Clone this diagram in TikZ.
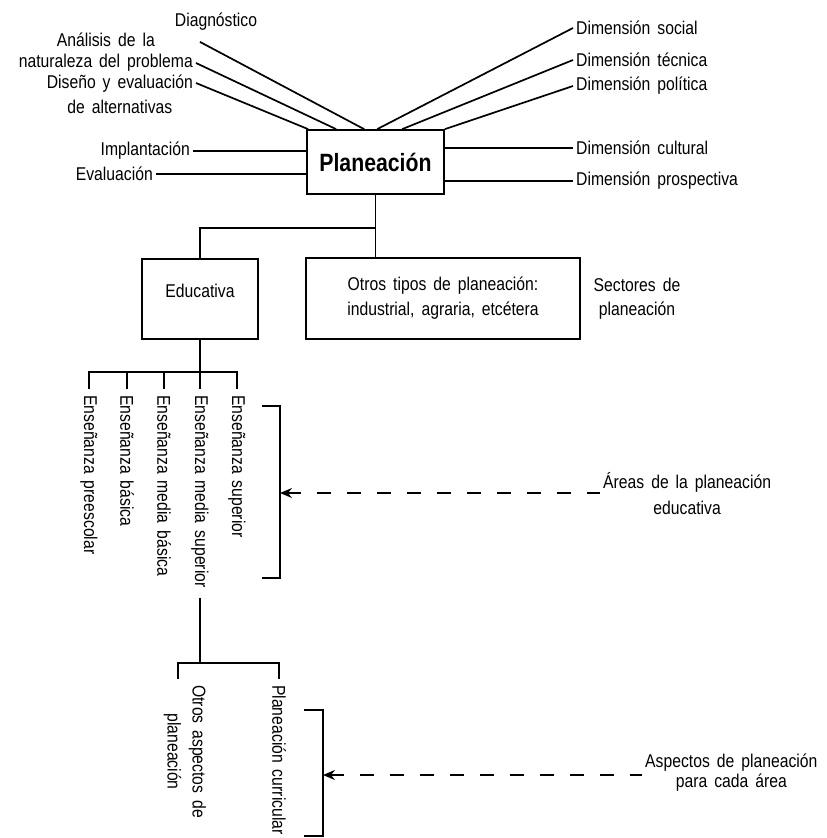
\documentclass[tikz,border=0pt]{standalone}
\usepackage{fontspec}
\setmainfont{Liberation Sans}[FakeStretch=0.85, WordSpace=1.6]
\usetikzlibrary{arrows.meta,calc}
\begin{document}
\begin{tikzpicture}[x=1pt,y=-1pt,
  every node/.style={font=\fontsize{18.5}{21}\selectfont, inner sep=3pt},
  boxed/.style={draw, line width=1.7pt},
  ln/.style={line width=1.7pt, line join=miter},
  vtext/.style={rotate=-90, anchor=west},
  dashln/.style={line width=1.7pt, dash pattern=on 14pt off 16pt, {Stealth[length=12pt,width=10pt,inset=4pt]}-},
]
\useasboundingbox (0,0) rectangle (827,838);

% central box
\node[boxed, minimum width=137pt, minimum height=64pt, font=\bfseries\fontsize{25}{28}\selectfont] (plan) at (375.5,162) {Planeación};

% left labels
\node (diag) at (216,22) {Diagnóstico};
\node[anchor=east, align=center] (ana) at (196,52.5) {Análisis de la\\naturaleza del problema};
\node[anchor=east, align=center, font=\fontsize{18.5}{25}\selectfont] (dis) at (196,94.5) {Diseño y evaluación\\de alternativas};
\node[anchor=east] (impl) at (193,151) {Implantación};
\node[anchor=east] (eval) at (156,174) {Evaluación};

\draw[ln] ($(diag.south)+(-16,8)$) -- ([xshift=58pt]plan.north west);
\draw[ln] ($(ana.east)+(0,10.5)$) -- ([xshift=30pt]plan.north west);
\draw[ln] ($(dis.east)+(0,-11.5)$) -- ([xshift=2pt]plan.north west);
\draw[ln] (impl.east) -- (impl.east -| plan.west);
\draw[ln] (eval.east) -- (eval.east -| plan.west);

% right labels
\node[anchor=west] (soc) at (573,28) {Dimensión social};
\node[anchor=west] (tec) at (573,60) {Dimensión técnica};
\node[anchor=west] (pol) at (573,86) {Dimensión política};
\node[anchor=west] (cul) at (573,148) {Dimensión cultural};
\node[anchor=west] (pro) at (573,181) {Dimensión prospectiva};

\draw[ln] ([xshift=71pt]plan.north west) -- (soc.west);
\draw[ln] ([xshift=96pt]plan.north west) -- (tec.west);
\draw[ln] (plan.north east) -- (pol.west);
\draw[ln] (cul.west -| plan.east) -- (cul.west);
\draw[ln] (pro.west -| plan.east) -- (pro.west);

% sector boxes
\node[boxed, minimum width=116pt, inner sep=0pt, text height=38pt, text depth=42pt] (edu) at (200,299) {Educativa};
\node[boxed, minimum width=274pt, minimum height=81pt, align=center, font=\fontsize{18.5}{25}\selectfont] (otr) at (443,298.5) {Otros tipos de planeación:\\industrial, agraria, etcétera};
\node[align=center, font=\fontsize{18.5}{24}\selectfont] (sec) at (637,299) {Sectores de\\planeación};

\coordinate (j1) at (375,228);
\draw[ln] (plan.south) -- (plan.south |- otr.north);
\draw[ln] (plan.south |- j1) -| (edu.north);

% areas
\node[vtext] (e1) at (89,392) {Enseñanza preescolar};
\node[vtext] (e2) at (127,392) {Enseñanza básica};
\node[vtext] (e3) at (164,392) {Enseñanza media básica};
\node[vtext] (e4) at (200,392) {Enseñanza media superior};
\node[vtext] (e5) at (237,392) {Enseñanza superior};

\coordinate (bar) at (0,372);
\draw[ln] (edu.south) -- (edu.south |- bar);
\draw[ln, shorten <=3pt, shorten >=3pt] (e1.west) -- (e1.west |- bar) -- (e5.west |- bar) -- (e5.west);
\foreach \n in {e2,e3,e4} \draw[ln, shorten >=3pt] (\n.west |- bar) -- (\n.west);

% bracket 1
\draw[ln] (262,406) -- (280,406) -- (280,578) -- (262,578);
\coordinate (b1) at (280,493);
\node[align=center, anchor=west, font=\fontsize{18.5}{26}\selectfont] (are) at (600,494) {Áreas de la planeación\\educativa};
\draw[dashln] (b1) -- (b1 -| are.west);

% aspects
\node[vtext] (pc) at (279,682) {Planeación curricular};
\node[vtext, align=center, font=\fontsize{18.5}{25}\selectfont] (oa) at (185,682) {Otros aspectos de\\planeación};
\coordinate (oat) at ([xshift=-7pt]oa.west);
\coordinate (bar2) at (0,663);
\draw[ln, shorten <=7pt] (e4.east) -- (e4.east |- bar2);
\draw[ln, shorten <=3pt, shorten >=3pt] (oat) -- (oat |- bar2) -- (pc.west |- bar2) -- (pc.west);

% bracket 2
\draw[ln] (304,710) -- (323,710) -- (323,836) -- (304,836);
\coordinate (b2) at (323,775);
\node[align=center, anchor=west, font=\fontsize{18.5}{20}\selectfont] (asp) at (642,773) {Aspectos de planeación\\para cada área};
\draw[dashln] (b2) -- (b2 -| asp.west);
\end{tikzpicture}
\end{document}
